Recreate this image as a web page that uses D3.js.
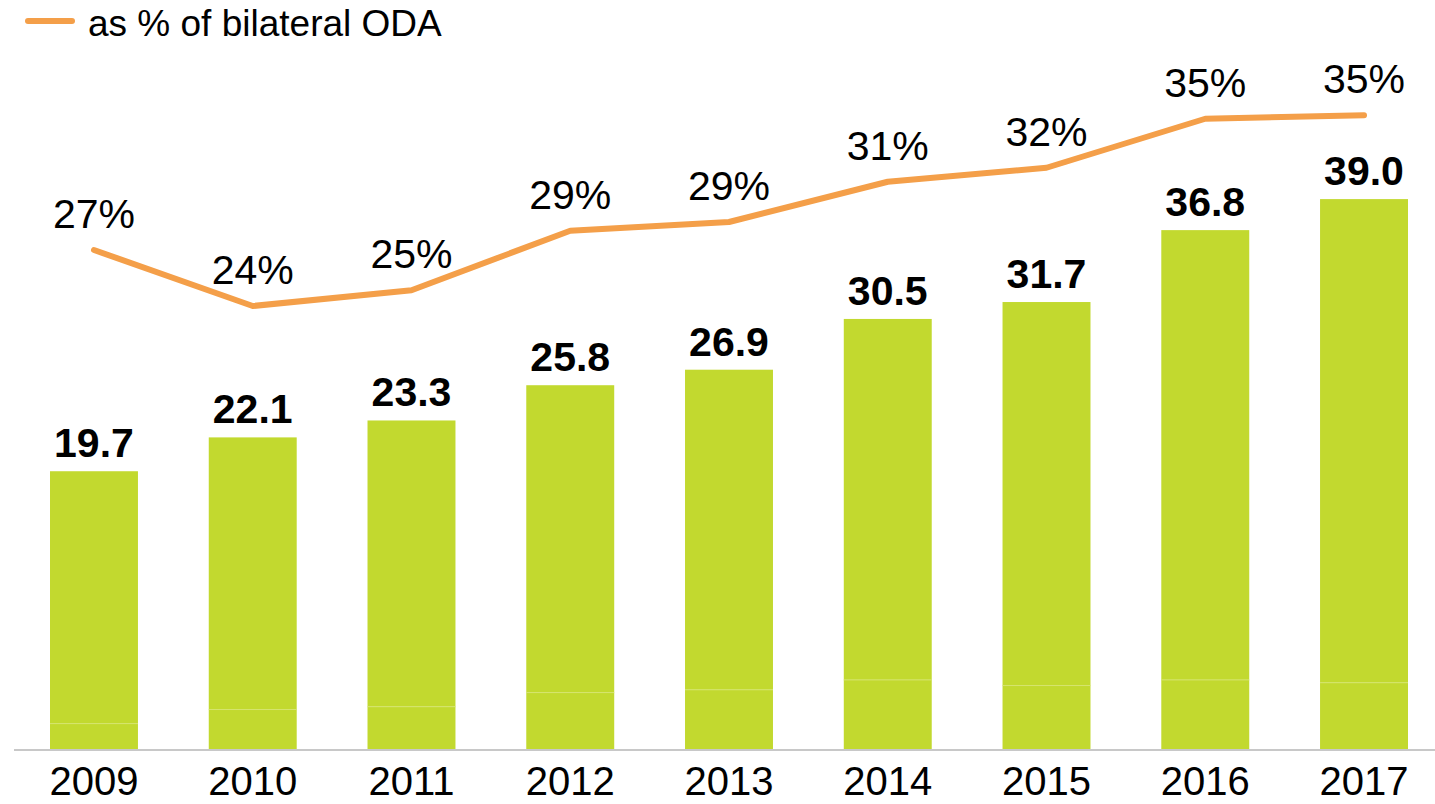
<!DOCTYPE html>
<html>
<head>
<meta charset="utf-8">
<script src="https://cdn.jsdelivr.net/npm/d3@7"></script>
<style>
  body { margin: 0; background: #fff; }
  svg text { font-family: "Liberation Sans", Arial, sans-serif; fill: #000; }
</style>
</head>
<body>
<div id="chart"></div>
<script>
var years = ['2009', '2010', '2011', '2012', '2013', '2014', '2015', '2016', '2017']
// bar totals (USD bn) and the lower stacked part
var totals = [19.7, 22.1, 23.3, 25.8, 26.9, 30.5, 31.7, 36.8, 39.0]
var lower = [1.8, 2.8, 3.0, 4.0, 4.2, 4.9, 4.5, 4.9, 4.7]
// share of bilateral ODA, %
var share = [27.4, 24.2, 25.1, 28.5, 29.0, 31.3, 32.1, 34.9, 35.1]
var legendLabel = 'as % of bilateral ODA'

var width = 1435, height = 804
var svg = d3.select('#chart').append('svg').attr('width', width).attr('height', height)

var x = d3.scaleBand().domain(years).range([50, 1408]).paddingInner(0.446).paddingOuter(0)
var y = d3.scaleLinear().domain([0, 39]).range([749, 199.1])
var yPct = d3.scaleLinear().domain([0, 40]).range([729.5, 29.5])

var data = years.map(function(yr, i){
  return {year: yr, total: totals[i], lower: lower[i], share: share[i]}
})

// bars: lower part + upper part
var bars = svg.append('g')
bars.selectAll('rect.lower').data(data).join('rect')
  .attr('class', 'lower')
  .attr('x', d => x(d.year))
  .attr('width', x.bandwidth())
  .attr('y', d => y(d.lower))
  .attr('height', d => y(0) - y(d.lower))
  .attr('fill', '#c2d92f')
bars.selectAll('rect.upper').data(data).join('rect')
  .attr('class', 'upper')
  .attr('x', d => x(d.year))
  .attr('width', x.bandwidth())
  .attr('y', d => y(d.total))
  .attr('height', d => y(d.lower) - y(d.total))
  .attr('fill', '#c2d92f')
// thin light seam between the parts
bars.selectAll('line.seam').data(data).join('line')
  .attr('class', 'seam')
  .attr('x1', d => x(d.year)).attr('x2', d => x(d.year) + x.bandwidth())
  .attr('y1', d => y(d.lower)).attr('y2', d => y(d.lower))
  .attr('stroke', '#d5e46e').attr('stroke-width', 1)

// baseline
svg.append('line')
  .attr('x1', 14).attr('x2', width)
  .attr('y1', y(0) + 1).attr('y2', y(0) + 1)
  .attr('stroke', '#c8c8c8').attr('stroke-width', 2)

// bar value labels
svg.selectAll('text.val').data(data).join('text')
  .attr('class', 'val')
  .attr('x', d => x(d.year) + x.bandwidth() / 2)
  .attr('y', d => y(d.total) - 14)
  .attr('text-anchor', 'middle')
  .style('font-size', '41px').style('font-weight', 'bold')
  .text(d => d3.format('.1f')(d.total))

// year axis labels
var xAxis = d3.axisBottom(x).tickSize(0).tickPadding(0)
var ax = svg.append('g').attr('transform', 'translate(0,795)').call(xAxis)
ax.select('.domain').remove()
ax.selectAll('text').style('font-size', '40px').attr('dy', 0).attr('y', 0)
  .style('font-family', '"Liberation Sans", Arial, sans-serif').attr('fill', '#000')

// share line
var line = d3.line()
  .x(d => x(d.year) + x.bandwidth() / 2)
  .y(d => yPct(d.share))
svg.append('path')
  .attr('d', line(data))
  .attr('fill', 'none')
  .attr('stroke', '#f49f49')
  .attr('stroke-width', 6)
  .attr('stroke-linecap', 'round')
  .attr('stroke-linejoin', 'round')

svg.selectAll('text.pct').data(data).join('text')
  .attr('class', 'pct')
  .attr('x', d => x(d.year) + x.bandwidth() / 2)
  .attr('y', d => yPct(d.share) - 22)
  .attr('text-anchor', 'middle')
  .style('font-size', '41px')
  .text(d => Math.round(d.share) + '%')

// legend
var lg = svg.append('g')
lg.append('line')
  .attr('x1', 28).attr('x2', 72).attr('y1', 21).attr('y2', 21)
  .attr('stroke', '#f49f49').attr('stroke-width', 6).attr('stroke-linecap', 'round')
lg.append('text')
  .attr('x', 88).attr('y', 36)
  .style('font-size', '37px')
  .text(legendLabel)
</script>
</body>
</html>
